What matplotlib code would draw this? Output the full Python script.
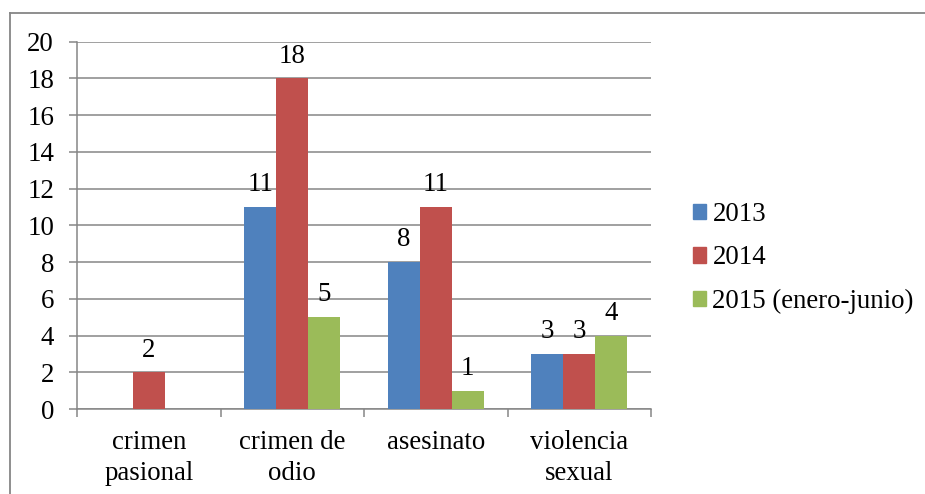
import numpy as np
import matplotlib
matplotlib.use("Agg")
import matplotlib.pyplot as plt
from matplotlib.lines import Line2D

plt.rcParams['font.family'] = ['Liberation Serif', 'DejaVu Serif']

categories = ["crimen\npasional", "crimen de\nodio", "asesinato", "violencia\nsexual"]
series_names = ["2013", "2014", "2015 (enero-junio)"]
values_2013 = [None, 11, 8, 3]
values_2014 = [2, 18, 11, 3]
values_2015 = [None, 5, 1, 4]
colors = ["#4F81BD", "#C0504D", "#9BBB59"]
y_ticks = [0, 2, 4, 6, 8, 10, 12, 14, 16, 18, 20]

W, H = 925, 494
fig = plt.figure(figsize=(W / 100, H / 100), dpi=100)
ax = fig.add_axes([77 / W, 1 - 409 / H, (651 - 77) / W, (409 - 41.7) / H])

fs = 19.4
grid_col = "#868686"
bar_w = 0.223
x = np.arange(len(categories)) + 0.5
all_series = [values_2013, values_2014, values_2015]

for i, (vals, col, name) in enumerate(zip(all_series, colors, series_names)):
    xs = x + (i - 1) * bar_w
    for xi, v in zip(xs, vals):
        if v is None:
            continue
        ax.bar(xi, v, width=bar_w, color=col, edgecolor="none", zorder=3)
        ax.annotate(str(v), (xi, v), xytext=(0, 16), textcoords="offset points",
                    ha="center", va="center", fontsize=fs, color="black")

ax.set_xlim(0, len(categories))
ax.set_ylim(0, 20)
ax.set_yticks(y_ticks)
ax.set_yticklabels([str(t) for t in y_ticks], fontsize=fs)
ax.yaxis.grid(True, color=grid_col, linewidth=1.1, zorder=0)
ax.set_axisbelow(True)

ax.set_xticks(np.arange(len(categories) + 1))
ax.set_xticklabels([])
ax.set_xticks(x, minor=True)
ax.set_xticklabels(categories, minor=True, fontsize=fs, linespacing=1.35, va="top")
ax.tick_params(axis="x", which="minor", length=0, pad=15)
ax.tick_params(axis="x", which="major", length=6, color=grid_col, width=1.1)
ax.tick_params(axis="y", length=6, color=grid_col, width=1.1, pad=10.5)

for s in ["top", "right"]:
    ax.spines[s].set_visible(False)
for s in ["left", "bottom"]:
    ax.spines[s].set_color(grid_col)
    ax.spines[s].set_linewidth(1.1)

handles = [plt.Rectangle((0, 0), 1, 1, color=c) for c in colors]
fig.legend(handles, series_names, loc="center left",
           bbox_to_anchor=(693 / W, 1 - 258 / H), frameon=False,
           fontsize=fs, handlelength=0.5, handleheight=0.5,
           handletextpad=0.22, labelspacing=0.68, borderpad=0, borderaxespad=0)

# chart frame
fig.add_artist(Line2D([9.5 / W, 1], [1 - 13 / H, 1 - 13 / H], transform=fig.transFigure,
                      color=grid_col, linewidth=1.3))
fig.add_artist(Line2D([9.5 / W, 9.5 / W], [0, 1 - 13 / H], transform=fig.transFigure,
                      color=grid_col, linewidth=1.3))

fig.savefig("out.png", dpi=100)
